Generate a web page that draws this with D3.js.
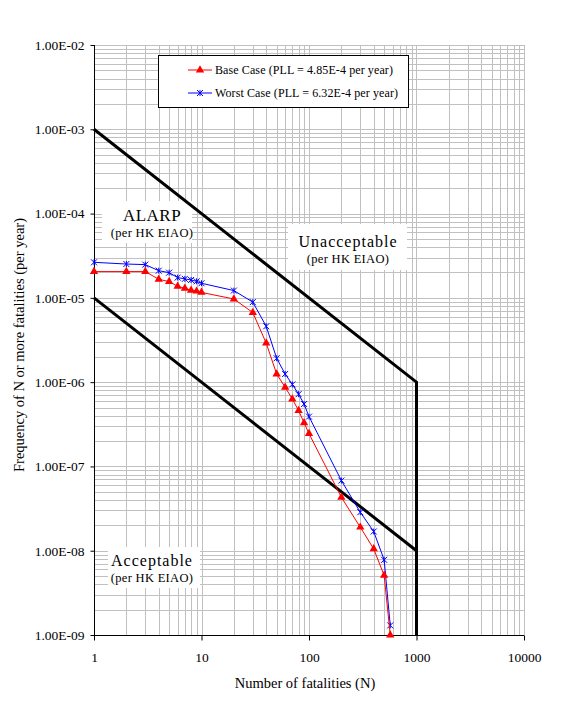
<!DOCTYPE html>
<html>
<head>
<meta charset="utf-8">
<script src="https://cdn.jsdelivr.net/npm/d3@7"></script>
<style>
  html, body { margin: 0; padding: 0; background: #fff; }
  svg { display: block; font-family: "Liberation Serif", "DejaVu Serif", serif; }
</style>
</head>
<body>
<svg id="chart" width="570" height="703"></svg>
<script>
// F-N curve data
const fatalities = [1, 2, 3, 4, 5, 6, 7, 8, 9, 10, 20, 30, 40, 50, 60, 70, 80, 90, 100, 200, 300, 400, 500, 570];
const baseCase = [2.05e-5, 2.05e-5, 2.05e-5, 1.66e-5, 1.56e-5, 1.37e-5, 1.30e-5, 1.23e-5, 1.20e-5, 1.16e-5,
                  9.7e-6, 6.7e-6, 2.9e-6, 1.25e-6, 8.7e-7, 6.3e-7, 4.6e-7, 3.3e-7, 2.45e-7,
                  4.3e-8, 1.9e-8, 1.05e-8, 5.1e-9, 1.0e-9];
const worstCase = [2.64e-5, 2.52e-5, 2.48e-5, 2.10e-5, 1.99e-5, 1.74e-5, 1.68e-5, 1.63e-5, 1.57e-5, 1.49e-5,
                   1.22e-5, 8.9e-6, 4.6e-6, 1.92e-6, 1.25e-6, 9.4e-7, 7.2e-7, 5.5e-7, 3.9e-7,
                   6.8e-8, 2.86e-8, 1.69e-8, 7.8e-9, 1.3e-9];

// HK EIAO risk criteria lines
const upperCriterion = [[1, 1e-3], [1000, 1e-6], [1000, 1e-9]];
const lowerCriterion = [[1, 1e-5], [1000, 1e-8]];

const xTicks = [1, 10, 100, 1000, 10000];
const xTickLabels = ["1", "10", "100", "1000", "10000"];
const yTicks = [1e-9, 1e-8, 1e-7, 1e-6, 1e-5, 1e-4, 1e-3, 1e-2];
const yTickLabels = ["1.00E-09", "1.00E-08", "1.00E-07", "1.00E-06", "1.00E-05", "1.00E-04", "1.00E-03", "1.00E-02"];

const seriesNames = ["Base Case (PLL = 4.85E-4 per year)", "Worst Case (PLL = 6.32E-4 per year)"];

const svg = d3.select("#chart");
const plotL = 94, plotR = 524, plotT = 45, plotB = 635;

const x = d3.scaleLog().domain([1, 10000]).range([plotL, plotR]);
const y = d3.scaleLog().domain([1e-9, 1e-2]).range([plotB, plotT]);

// minor/major grid values
const xGrid = [], yGrid = [];
for (let d = 0; d < 4; d++) for (let k = 1; k <= 9; k++) xGrid.push(k * Math.pow(10, d));
xGrid.push(10000);
for (let d = -9; d < -2; d++) for (let k = 1; k <= 9; k++) yGrid.push(k * Math.pow(10, d));
yGrid.push(1e-2);

const grid = svg.append("g").attr("stroke", "#c0c0c0").attr("stroke-width", 1);
grid.selectAll("line.v").data(xGrid).join("line").attr("class", "v")
  .attr("x1", d => Math.round(x(d)) + 0.5).attr("x2", d => Math.round(x(d)) + 0.5)
  .attr("y1", plotT).attr("y2", plotB);
grid.selectAll("line.h").data(yGrid).join("line").attr("class", "h")
  .attr("y1", d => Math.round(y(d)) + 0.5).attr("y2", d => Math.round(y(d)) + 0.5)
  .attr("x1", plotL).attr("x2", plotR);

// zone labels on white backgrounds
const zones = [
  { box: [102, 201, 90, 42], title: "ALARP", tx: 152, ty: 221, size: 17, ls: 0.5 },
  { box: [288, 224, 119, 46], title: "Unacceptable", tx: 348, ty: 247, size: 16, ls: 1 },
  { box: [108, 547, 92, 41], title: "Acceptable", tx: 152, ty: 566, size: 16, ls: 1 }
];
zones.forEach(z => {
  svg.append("rect").attr("x", z.box[0]).attr("y", z.box[1]).attr("width", z.box[2]).attr("height", z.box[3]).attr("fill", "#fff");
  svg.append("text").attr("x", z.tx).attr("y", z.ty).attr("text-anchor", "middle").attr("font-size", z.size)
    .attr("letter-spacing", z.ls).text(z.title);
  svg.append("text").attr("x", z.tx).attr("y", z.ty + 16).attr("text-anchor", "middle").attr("font-size", 12.5)
    .attr("letter-spacing", 0.3).text("(per HK EIAO)");
});

// axes
const yAxis = d3.axisLeft(y).tickValues(yTicks).tickFormat((d, i) => yTickLabels[i]).tickSize(4).tickPadding(6);
const gy = svg.append("g").attr("transform", `translate(${plotL + 0.5},0)`).call(yAxis);
gy.select(".domain").attr("d", `M0,${plotT}V${plotB}`);
gy.selectAll("text").attr("font-family", "Liberation Serif, serif").attr("font-size", 13.5).attr("fill", "#000");

const xAxis = d3.axisBottom(x).tickValues(xTicks).tickFormat((d, i) => xTickLabels[i]).tickSize(5).tickPadding(12);
const gx = svg.append("g").attr("transform", `translate(0,${plotB + 0.5})`).call(xAxis);
gx.select(".domain").attr("d", `M${plotL},0H${plotR}`);
gx.selectAll("text").attr("font-family", "Liberation Serif, serif").attr("font-size", 13.5).attr("fill", "#000");

// criteria lines
const critLine = d3.line().x(d => x(d[0])).y(d => y(d[1]));
[upperCriterion, lowerCriterion].forEach(c => {
  svg.append("path").attr("d", critLine(c)).attr("fill", "none").attr("stroke", "#000").attr("stroke-width", 3);
});

// series
const seriesLine = d3.line().x(d => x(d[0])).y(d => y(d[1]));
const triangle = d3.symbol().type(d3.symbolTriangle).size(30);
function star(g, cx, cy, color) {
  const r = 3;
  g.append("path").attr("d", `M${cx - r},${cy - r}L${cx + r},${cy + r}M${cx - r},${cy + r}L${cx + r},${cy - r}M${cx},${cy - r}L${cx},${cy + r}`)
    .attr("stroke", color).attr("stroke-width", 1).attr("fill", "none");
}

const worstPts = fatalities.map((n, i) => [n, worstCase[i]]);
const basePts = fatalities.map((n, i) => [n, baseCase[i]]);

svg.append("path").attr("d", seriesLine(worstPts)).attr("fill", "none").attr("stroke", "#0000ff").attr("stroke-width", 1);
const gw = svg.append("g");
worstPts.forEach(p => star(gw, x(p[0]), y(p[1]), "#0000ff"));

svg.append("path").attr("d", seriesLine(basePts)).attr("fill", "none").attr("stroke", "#ff0000").attr("stroke-width", 1);
svg.append("g").selectAll("path").data(basePts).join("path")
  .attr("d", triangle).attr("fill", "#ff0000")
  .attr("transform", d => `translate(${x(d[0])},${y(d[1])})`);

// legend
const lg = svg.append("g");
lg.append("rect").attr("x", 158.5).attr("y", 55.5).attr("width", 250).attr("height", 52).attr("fill", "#fff").attr("stroke", "#000");
lg.append("line").attr("x1", 188).attr("x2", 212).attr("y1", 70).attr("y2", 70).attr("stroke", "#ff0000");
lg.append("path").attr("d", triangle).attr("fill", "#ff0000").attr("transform", "translate(200,70)");
lg.append("text").attr("x", 215).attr("y", 74).attr("font-size", 12).attr("letter-spacing", 0.1).text(seriesNames[0]);
lg.append("line").attr("x1", 188).attr("x2", 212).attr("y1", 93).attr("y2", 93).attr("stroke", "#0000ff");
star(lg, 200, 93, "#0000ff");
lg.append("text").attr("x", 215).attr("y", 97).attr("font-size", 12).attr("letter-spacing", 0.1).text(seriesNames[1]);

// axis titles
svg.append("text").attr("x", 305).attr("y", 688).attr("text-anchor", "middle").attr("font-size", 14.5).text("Number of fatalities (N)");
svg.append("text").attr("transform", "translate(24,345) rotate(-90)").attr("text-anchor", "middle").attr("font-size", 14.5)
  .text("Frequency of N or more fatalities (per year)");
</script>
</body>
</html>
